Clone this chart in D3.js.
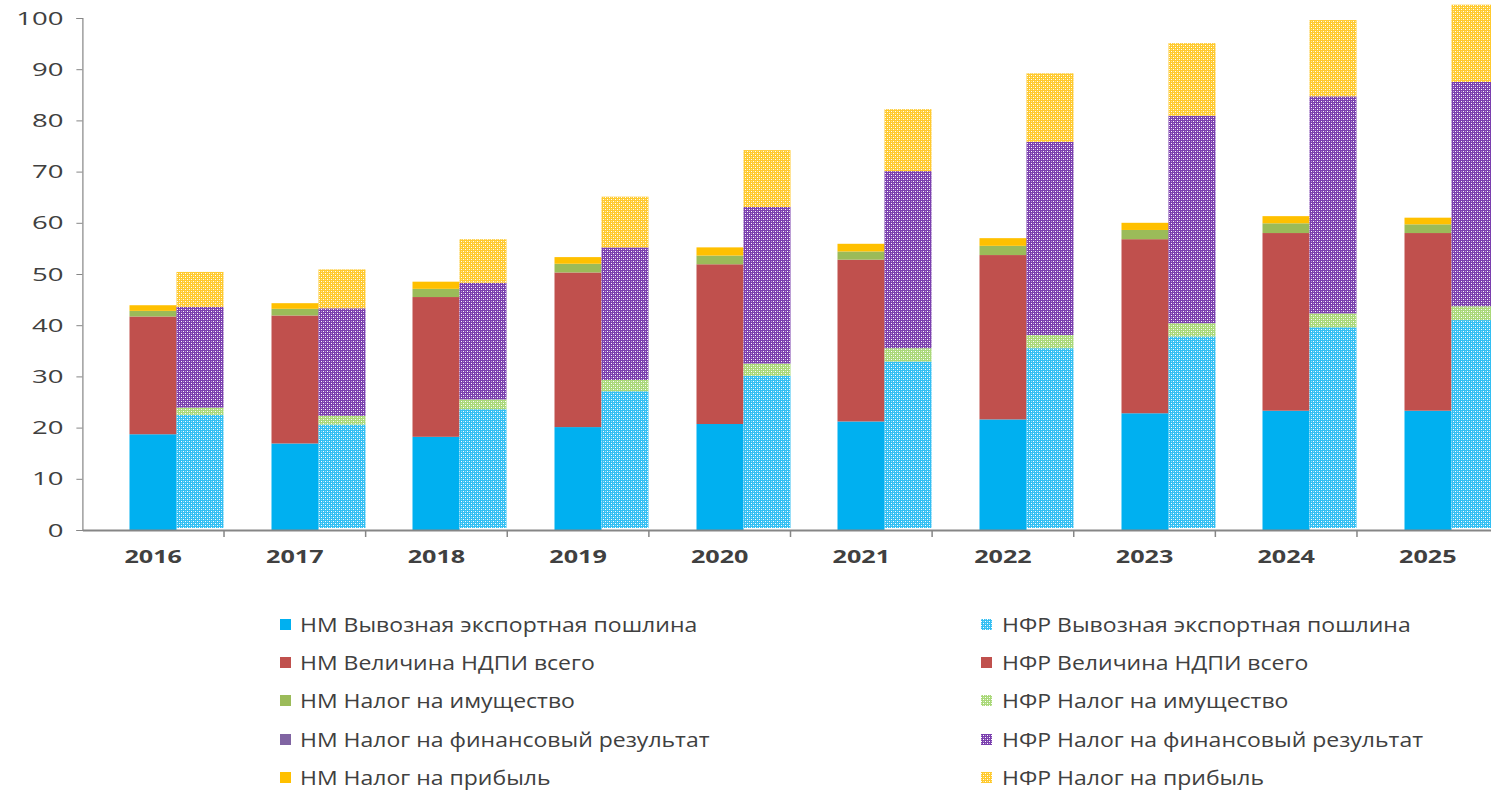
<!DOCTYPE html>
<html>
<head>
<meta charset="utf-8">
<script src="https://cdn.jsdelivr.net/npm/d3@7"></script>
<style>
  body { margin: 0; background: #fff; }
  text { font-family: "Open Sans", "DejaVu Sans", sans-serif; fill: #404040; }
</style>
</head>
<body>
<div id="chart"></div>
<script>
const width = 1491;
const height = 791;

const years = ["2016", "2017", "2018", "2019", "2020", "2021", "2022", "2023", "2024", "2025"];
const yTicks = [0, 10, 20, 30, 40, 50, 60, 70, 80, 90, 100];

// НМ (solid bars)
const nmExport     = [18.7, 16.9, 18.2, 20.1, 20.7, 21.2, 21.6, 22.8, 23.3, 23.3];
const nmMet        = [23.0, 25.0, 27.3, 30.2, 31.2, 31.6, 32.1, 34.0, 34.7, 34.7];
const nmProperty   = [1.1, 1.3, 1.6, 1.7, 1.7, 1.6, 1.8, 1.8, 1.9, 1.7];
const nmFinResult  = [0, 0, 0, 0, 0, 0, 0, 0, 0, 0];
const nmProfit     = [1.1, 1.1, 1.4, 1.3, 1.6, 1.5, 1.5, 1.4, 1.4, 1.3];

// НФР (patterned bars)
const nfrExport    = [22.5, 20.6, 23.6, 27.1, 30.1, 32.9, 35.5, 37.8, 39.6, 41.0];
const nfrMet       = [0, 0, 0, 0, 0, 0, 0, 0, 0, 0];
const nfrProperty  = [1.4, 1.7, 1.9, 2.2, 2.4, 2.6, 2.6, 2.6, 2.7, 2.7];
const nfrFinResult = [19.7, 21.0, 22.8, 25.9, 30.6, 34.6, 37.7, 40.5, 42.4, 43.8];
const nfrProfit    = [6.8, 7.6, 8.5, 9.9, 11.1, 12.1, 13.4, 14.2, 14.9, 15.1];

const nmLabels = [
    "НМ Вывозная экспортная пошлина",
    "НМ Величина НДПИ всего",
    "НМ Налог на имущество",
    "НМ Налог на финансовый результат",
    "НМ Налог на прибыль"
];
const nfrLabels = [
    "НФР Вывозная экспортная пошлина",
    "НФР Величина НДПИ всего",
    "НФР Налог на имущество",
    "НФР Налог на финансовый результат",
    "НФР Налог на прибыль"
];

const colors = ["#00B0F0", "#C0504D", "#9BBB59", "#8064A2", "#FFC000"];
// base tint of the patterned НФР fills (white dots are laid over it)
const patternColors = ["#33BFF3", "#C0504D", "#A9D878", "#7A3FAE", "#FFCA2E"];

const keys = ["export", "met", "property", "finResult", "profit"];
const nmSeries = [nmExport, nmMet, nmProperty, nmFinResult, nmProfit];
const nfrSeries = [nfrExport, nfrMet, nfrProperty, nfrFinResult, nfrProfit];

const toRows = series => years.map((yr, i) => {
    const r = { year: yr };
    keys.forEach((k, j) => r[k] = series[j][i]);
    return r;
});

const stack = d3.stack().keys(keys);
const nmStacked = stack(toRows(nmSeries));
const nfrStacked = stack(toRows(nfrSeries));

const svg = d3.select("#chart").append("svg")
    .attr("width", width)
    .attr("height", height);

// white dot grid, transparent background
const defs = svg.append("defs");
const dots = defs.append("pattern")
    .attr("id", "dots")
    .attr("width", 4)
    .attr("height", 4)
    .attr("patternUnits", "userSpaceOnUse");
dots.append("rect").attr("x", 1).attr("y", 1).attr("width", 1).attr("height", 1).attr("fill", "#fff");
dots.append("rect").attr("x", 3).attr("y", 3).attr("width", 1).attr("height", 1).attr("fill", "#fff");
dots.append("rect").attr("x", 3).attr("y", 1).attr("width", 1).attr("height", 1).attr("fill", "#fff").attr("opacity", 0.45);
dots.append("rect").attr("x", 1).attr("y", 3).attr("width", 1).attr("height", 1).attr("fill", "#fff").attr("opacity", 0.45);

const x = d3.scaleBand()
    .domain(years)
    .range([82.4, 1498.6])
    .padding(0);

const y = d3.scaleLinear()
    .domain([0, 100])
    .range([530, 18]);

const barW = Math.round(x.bandwidth() * 0.335);
const cx = yr => Math.round(x(yr) + x.bandwidth() / 2);

// НМ bars
svg.append("g").selectAll("g")
    .data(nmStacked)
    .join("g")
    .attr("fill", (d, i) => colors[i])
    .selectAll("rect")
    .data(d => d)
    .join("rect")
    .attr("x", d => cx(d.data.year) - barW / 2)
    .attr("y", d => y(d[1]))
    .attr("width", barW)
    .attr("height", d => y(d[0]) - y(d[1]));

// НФР bars: tinted base + dot overlay
const nfrGroups = svg.append("g").selectAll("g")
    .data(nfrStacked)
    .join("g");

nfrGroups.each(function(s, i) {
    const g = d3.select(this);
    const segs = s.filter(d => d[1] > d[0]);
    ["base", "dots"].forEach(layer => {
        g.selectAll("rect." + layer)
            .data(segs)
            .join("rect")
            .attr("class", layer)
            .attr("x", d => cx(d.data.year) + barW / 2)
            .attr("y", d => y(d[1]))
            .attr("width", barW)
            .attr("height", d => Math.max(0, y(d[0]) - y(d[1]) - (d[0] === 0 ? 2 : 0)))
            .attr("fill", layer === "base" ? patternColors[i] : "url(#dots)");
    });
});

// axes
const ySx = 1.45;
const yAxis = svg.append("g")
    .attr("transform", "translate(82.4,0)")
    .call(d3.axisLeft(y).tickValues(yTicks).tickSize(6).tickPadding(13));
yAxis.select(".domain").attr("stroke", "#868686").attr("stroke-width", 1.2);
yAxis.selectAll(".tick line").attr("stroke", "#868686");
yAxis.selectAll(".tick text")
    .style("font-size", "19px")
    .attr("fill", "#404040")
    .attr("x", -19 / ySx)
    .attr("transform", `scale(${ySx},1)`);

const xAxis = svg.append("g")
    .attr("transform", "translate(0,530)")
    .call(d3.axisBottom(x).tickSize(0).tickPadding(20));
xAxis.select(".domain").attr("stroke", "#868686").attr("stroke-width", 2);
xAxis.selectAll(".tick text")
    .style("font-size", "18px")
    .style("font-weight", "bold")
    .attr("fill", "#000")
    .attr("transform", "scale(1.4,1)");

// category separator ticks
svg.append("g").selectAll("line")
    .data(years.slice(1))
    .join("line")
    .attr("x1", d => x(d))
    .attr("x2", d => x(d))
    .attr("y1", 530)
    .attr("y2", 537)
    .attr("stroke", "#868686")
    .attr("stroke-width", 1.5);

// legend
const legendRows = [625, 663, 701, 740, 778];
const legend = svg.append("g");

function legendItem(px, tx, ry, fill, label, dotted) {
    legend.append("rect")
        .attr("x", px).attr("y", ry - 6)
        .attr("width", 11).attr("height", 11)
        .attr("fill", fill);
    if (dotted) {
        legend.append("rect")
            .attr("x", px).attr("y", ry - 6)
            .attr("width", 11).attr("height", 11)
            .attr("fill", "url(#dots)");
    }
    legend.append("text")
        .attr("transform", `translate(${tx},${ry}) scale(1.15,1)`)
        .attr("dy", "0.35em")
        .style("font-size", "20px")
        .text(label);
}

nmLabels.forEach((t, i) => legendItem(280, 300, legendRows[i], colors[i], t, false));
nfrLabels.forEach((t, i) => legendItem(981, 1002, legendRows[i],
    i === 1 ? colors[1] : patternColors[i], t, i !== 1));
</script>
</body>
</html>
